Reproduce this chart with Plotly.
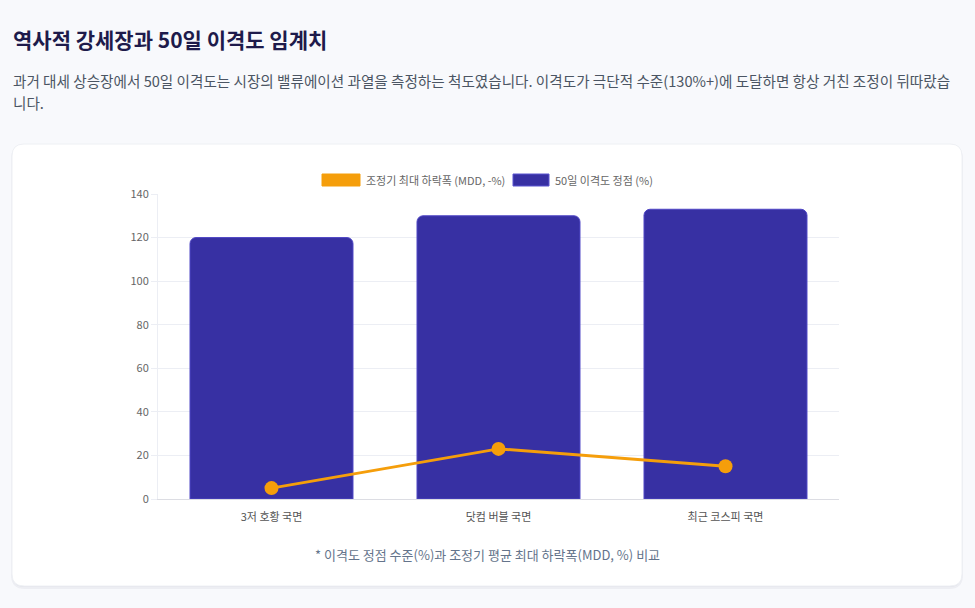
import plotly.graph_objects as go

# data
categories = ["3저 호황 국면", "닷컴 버블 국면", "최근 코스피 국면"]
peak_disparity = [120, 130, 133]  # 50일 이격도 정점 (%)
max_drawdown = [5, 23, 15]  # 조정기 최대 하락폭 (MDD, -%)
y_ticks = [0, 20, 40, 60, 80, 100, 120, 140]

W, H = 975, 608
L, R, T, B = 158, 136, 194, 109
PW, PH = W - L - R, H - T - B

FONT = "Noto Sans CJK KR"
BAR_COLOR = "#3730a3"
LINE_COLOR = "#f59e0b"
PAGE_BG = "#f8f9fc"


def px(x):
    return (x - L) / PW


def py(y):
    return (H - B - y) / PH


def rounded_rect(x0, y0, x1, y1, r):
    rx, ry = r / PW, r / PH
    a, b, c, d = px(x0), py(y1), px(x1), py(y0)
    return (
        f"M {a + rx},{b} L {c - rx},{b} Q {c},{b} {c},{b + ry} "
        f"L {c},{d - ry} Q {c},{d} {c - rx},{d} L {a + rx},{d} "
        f"Q {a},{d} {a},{d - ry} L {a},{b + ry} Q {a},{b} {a + rx},{b} Z"
    )


fig = go.Figure()

fig.add_trace(
    go.Bar(
        x=categories,
        y=peak_disparity,
        name="50일 이격도 정점 (%)",
        marker=dict(color=BAR_COLOR, line=dict(color="#4f46c5", width=1), cornerradius=6),
        hoverinfo="y",
    )
)
fig.add_trace(
    go.Scatter(
        x=categories,
        y=max_drawdown,
        name="조정기 최대 하락폭 (MDD, -%)",
        mode="lines+markers",
        line=dict(color=LINE_COLOR, width=3),
        marker=dict(color=LINE_COLOR, size=14),
    )
)

shapes = [
    # card shadow
    dict(type="path", xref="paper", yref="paper", layer="below",
         path=rounded_rect(11, 145, 963, 589, 14),
         fillcolor="rgba(30,40,80,0.05)", line=dict(width=0)),
    dict(type="path", xref="paper", yref="paper", layer="below",
         path=rounded_rect(12, 145, 962, 587, 13),
         fillcolor="rgba(30,40,80,0.05)", line=dict(width=0)),
    # card
    dict(type="path", xref="paper", yref="paper", layer="below",
         path=rounded_rect(12, 144, 962, 586, 12),
         fillcolor="white", line=dict(color="#eef0f4", width=1)),
    # legend boxes
    dict(type="rect", xref="paper", yref="paper",
         x0=px(322), x1=px(360), y0=py(186), y1=py(174),
         fillcolor=LINE_COLOR, line=dict(color=LINE_COLOR, width=1)),
    dict(type="rect", xref="paper", yref="paper",
         x0=px(513), x1=px(549), y0=py(186), y1=py(174),
         fillcolor=BAR_COLOR, line=dict(color="#5b54d0", width=1)),
]

annotations = [
    dict(text="<b>역사적 강세장과 50일 이격도 임계치</b>", x=px(11), y=py(39),
         font=dict(size=21, color="#1e1b4b")),
    dict(text="과거 대세 상승장에서 50일 이격도는 시장의 밸류에이션 과열을 측정하는 척도였습니다. "
              "이격도가 극단적 수준(130%+)에 도달하면 항상 거친 조정이 뒤따랐습",
         x=px(11), y=py(81), font=dict(size=14.6, color="#4b5563")),
    dict(text="니다.", x=px(11), y=py(103), font=dict(size=14.6, color="#4b5563")),
    dict(text="조정기 최대 하락폭 (MDD, -%)", x=px(364), y=py(180),
         font=dict(size=11, color="#666666")),
    dict(text="50일 이격도 정점 (%)", x=px(553), y=py(180),
         font=dict(size=11, color="#666666")),
    dict(text="* 이격도 정점 수준(%)과 조정기 평균 최대 하락폭(MDD, %) 비교",
         x=px(487), y=py(554), xanchor="center",
         font=dict(size=13, color="#64748b")),
]
for a in annotations:
    a.update(xref="paper", yref="paper", showarrow=False, yanchor="middle")
    a.setdefault("xanchor", "left")
    a.setdefault("align", "left")

fig.update_layout(
    width=W,
    height=H,
    margin=dict(l=L, r=R, t=T, b=B, autoexpand=False),
    paper_bgcolor=PAGE_BG,
    plot_bgcolor="rgba(0,0,0,0)",
    font=dict(family=FONT, color="#666666"),
    showlegend=False,
    bargap=0.282,
    shapes=shapes,
    annotations=annotations,
    xaxis=dict(
        showgrid=False,
        showline=True,
        linecolor="#dcdde3",
        linewidth=1,
        ticks="outside",
        ticklen=8,
        tickcolor="rgba(0,0,0,0)",
        tickfont=dict(size=11, color="#555555"),
    ),
    yaxis=dict(
        range=[0, 140],
        tickvals=y_ticks,
        showgrid=True,
        gridcolor="#eceef4",
        zeroline=False,
        showline=True,
        linecolor="#eceef4",
        ticks="outside",
        ticklen=6,
        tickcolor="#eceef4",
        tickfont=dict(size=11, color="#666666"),
    ),
)

# page has a default 8px body margin; drop it so the figure fills the window
fig.write_html(
    "out.html",
    config={"displayModeBar": False},
    post_script=f"document.body.style.margin='0';document.body.style.background='{PAGE_BG}';",
)
